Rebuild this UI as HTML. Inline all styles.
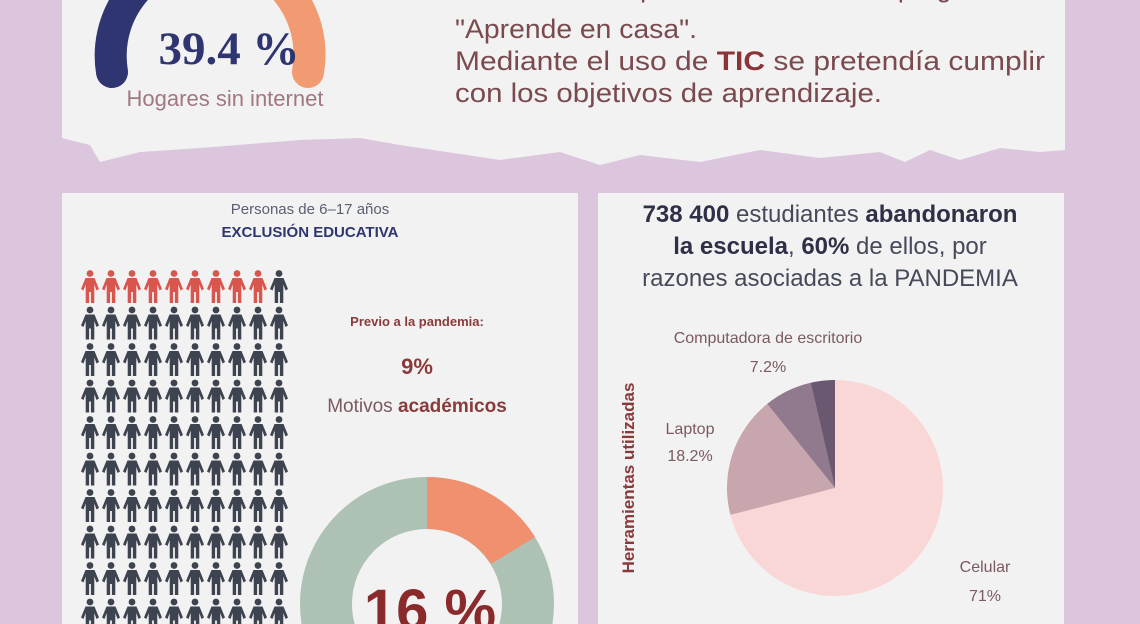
<!DOCTYPE html>
<html><head><meta charset="utf-8"><style>
body{margin:0;width:1140px;height:624px;overflow:hidden;background:#dcc6de;font-family:"Liberation Sans",sans-serif;}
svg{position:absolute;left:0;top:0}
</style></head><body>
<svg width="1140" height="624" viewBox="0 0 1140 624">
<defs>
<symbol id="p" viewBox="0 0 18 34">
<circle cx="9" cy="3.5" r="3.4"/>
<path d="M4.5 8 H13.5 L18 19 L15.5 20.5 L13.3 14.5 L13.3 33 L9.9 33 L9.9 22 L8.1 22 L8.1 33 L4.7 33 L4.7 14.5 L2.5 20.5 L0 19 Z"/>
</symbol>
</defs>
<path d="M62 0 H1065 V150 L1040 152 L1000 148 L960 160 L930 150 L905 162 L880 152 L820 158 L760 150 L700 162 L640 155 L600 165 L560 152 L500 160 L400 145 L360 138 L300 140 L200 148 L140 152 L100 162 L90 145 L62 138 Z" fill="#f3f2f2"/>
<path d="M112 72 A100 100 0 0 1 195 -43" fill="none" stroke="#2e3570" stroke-width="32" stroke-linecap="round"/>
<path d="M200 -45 A100 100 0 0 1 308 72" fill="none" stroke="#f29a72" stroke-width="32" stroke-linecap="round"/>
<text x="229" y="64" text-anchor="middle" font-family="Liberation Serif,serif" font-weight="bold" font-size="47" fill="#2e3570">39.4 %</text>
<text x="225" y="106" text-anchor="middle" font-size="22" fill="#a07880">Hogares sin internet</text>
<g font-size="27" fill="#7a4a4e">
<text x="452" y="-3" textLength="560" lengthAdjust="spacingAndGlyphs">las clases se impartieron mediante el programa</text>
<text x="455" y="38" textLength="242" lengthAdjust="spacingAndGlyphs">"Aprende en casa".</text>
<text x="455" y="70" textLength="590" lengthAdjust="spacingAndGlyphs">Mediante el uso de <tspan font-weight="bold" fill="#8a3438">TIC</tspan> se pretendía cumplir</text>
<text x="455" y="102" textLength="427" lengthAdjust="spacingAndGlyphs">con los objetivos de aprendizaje.</text>
</g>
<rect x="62" y="193" width="516" height="440" fill="#f3f2f2"/>
<text x="310" y="214" text-anchor="middle" font-size="15" fill="#5a6070">Personas de 6–17 años</text>
<text x="310" y="237" text-anchor="middle" font-size="15" font-weight="bold" fill="#2e3570">EXCLUSIÓN EDUCATIVA</text>
<g fill="#d9564f">
<use href="#p" x="81" y="270" width="18" height="34"/><use href="#p" x="102" y="270" width="18" height="34"/><use href="#p" x="123" y="270" width="18" height="34"/><use href="#p" x="144" y="270" width="18" height="34"/><use href="#p" x="165" y="270" width="18" height="34"/><use href="#p" x="186" y="270" width="18" height="34"/><use href="#p" x="207" y="270" width="18" height="34"/><use href="#p" x="228" y="270" width="18" height="34"/><use href="#p" x="249" y="270" width="18" height="34"/>
</g>
<g fill="#3d4450"><use href="#p" x="270" y="270" width="18" height="34"/></g>
<g fill="#3d4450" id="rows"></g>
<text x="417" y="326" text-anchor="middle" font-size="13" font-weight="bold" fill="#8a3a3a">Previo a la pandemia:</text>
<text x="417" y="374" text-anchor="middle" font-size="22" font-weight="bold" fill="#8a3a3a">9%</text>
<text x="417" y="412" text-anchor="middle" font-size="19" fill="#7a5a5e">Motivos <tspan font-weight="bold" fill="#8a3a3a">académicos</tspan></text>
<circle cx="427" cy="604" r="101" fill="none" stroke="#adc1b4" stroke-width="52"/>
<path d="M427 477 A127 127 0 0 1 535 537 L491 564 A75 75 0 0 0 427 529 Z" fill="#f0906e"/>
<text x="430" y="630" text-anchor="middle" font-size="58" font-weight="bold" fill="#8a2a2a">16 %</text>
<rect x="598" y="193" width="466" height="440" fill="#f3f2f2"/>
<g font-size="24" fill="#454a5a" text-anchor="middle">
<text x="830" y="222"><tspan font-weight="bold" fill="#2e3048">738 400</tspan> estudiantes <tspan font-weight="bold" fill="#2e3048">abandonaron</tspan></text>
<text x="830" y="254"><tspan font-weight="bold" fill="#2e3048">la escuela</tspan>, <tspan font-weight="bold" fill="#2e3048">60%</tspan> de ellos, por</text>
<text x="830" y="286">razones asociadas a la PANDEMIA</text>
</g>
<text transform="translate(634,478) rotate(-90)" text-anchor="middle" font-size="17" font-weight="bold" fill="#8a3a3a">Herramientas utilizadas</text>
<path d="M835 488 L835 380 A108 108 0 1 1 730.4 514.9 Z" fill="#f8d7d6"/>
<path d="M835 488 L730.4 514.9 A108 108 0 0 1 767.2 403.9 Z" fill="#c8a6ae"/>
<path d="M835 488 L767.2 403.9 A108 108 0 0 1 810.7 382.8 Z" fill="#917a8d"/>
<path d="M835 488 L810.7 382.8 A108 108 0 0 1 835 380 Z" fill="#6a5770"/>
<g font-size="16" fill="#7a5a5f" text-anchor="middle">
<text x="768" y="343">Computadora de escritorio</text>
<text x="768" y="372">7.2%</text>
<text x="690" y="434">Laptop</text>
<text x="690" y="461">18.2%</text>
<text x="985" y="572">Celular</text>
<text x="985" y="601">71%</text>
</g>
</svg>
<script>
var g=document.getElementById('rows'),s='';
for(var r=1;r<10;r++)for(var c=0;c<10;c++)s+='<use href="#p" x="'+(81+21*c)+'" y="'+(270+36.5*r)+'" width="18" height="34"/>';
g.innerHTML=s;
</script>
</body></html>
